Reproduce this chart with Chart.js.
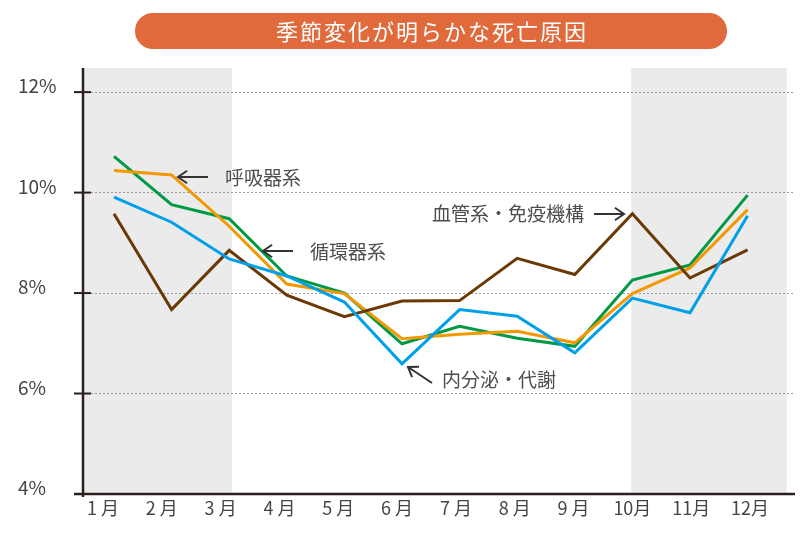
<!DOCTYPE html>
<html>
<head>
<meta charset="utf-8">
<script src="https://cdn.jsdelivr.net/npm/chart.js@4/dist/chart.umd.min.js"></script>
<style>
  html, body { margin: 0; padding: 0; background: #fff; }
  canvas { display: block; }
</style>
</head>
<body>
<canvas id="myChart" width="800" height="533"></canvas>
<script>
// chart data
const titleText = '季節変化が明らかな死亡原因'
const months = [1, 2, 3, 4, 5, 6, 7, 8, 9, 10, 11, 12]
const monthLabels = ['1 月', '2 月', '3 月', '4 月', '5 月', '6 月', '7 月', '8 月', '9 月', '10月', '11月', '12月']
const yTicks = [4, 6, 8, 10, 12]

const respiratory = [10.44, 10.35, 9.33, 8.18, 7.99, 7.09, 7.18, 7.24, 7.01, 7.99, 8.5, 9.66]
const circulatory = [10.72, 9.76, 9.48, 8.34, 8.0, 6.99, 7.34, 7.1, 6.94, 8.26, 8.56, 9.95]
const vascularImmune = [9.58, 7.67, 8.85, 7.96, 7.53, 7.84, 7.85, 8.69, 8.37, 9.58, 8.3, 8.86]
const endocrine = [9.91, 9.41, 8.68, 8.34, 7.82, 6.59, 7.67, 7.54, 6.81, 7.9, 7.61, 9.54]

const seriesNames = ['呼吸器系', '循環器系', '血管系・免疫機構', '内分泌・代謝']

const FONT = '"Noto Sans CJK JP", "Noto Sans", sans-serif'
const AXIS_COLOR = '#2a1f1c'

const toPoints = (values) => months.map((m, i) => ({ x: m, y: values[i] }))

// grey bands behind the winter months, title pill
const backdrop = {
    id: 'backdrop',
    beforeDraw(chart) {
        const { ctx, chartArea, scales } = chart
        ctx.save()
        ctx.fillStyle = '#fff'
        ctx.fillRect(0, 0, chart.width, chart.height)

        ctx.fillStyle = '#ebebeb'
        const bands = [[scales.x.min, 3.05], [9.98, 12.68]]
        bands.forEach(([a, b]) => {
            const x1 = Math.max(chartArea.left, scales.x.getPixelForValue(a))
            const x2 = scales.x.getPixelForValue(b)
            ctx.fillRect(x1, chartArea.top, x2 - x1, chartArea.bottom - chartArea.top)
        })

        // title pill
        ctx.fillStyle = '#e06a3b'
        ctx.beginPath()
        ctx.roundRect(135, 13, 592, 36, 18)
        ctx.fill()
        ctx.fillStyle = '#fff'
        ctx.font = '22px ' + FONT
        ctx.letterSpacing = '2px'
        ctx.textAlign = 'center'
        ctx.textBaseline = 'middle'
        ctx.fillText(titleText, 432, 32)
        ctx.restore()
    },
}

function arrow(ctx, tx, ty, fx, fy) {
    const ang = Math.atan2(ty - fy, tx - fx)
    const len = 11
    ctx.beginPath()
    ctx.moveTo(fx, fy)
    ctx.lineTo(tx, ty)
    ctx.moveTo(tx - len * Math.cos(ang - 0.6), ty - len * Math.sin(ang - 0.6))
    ctx.lineTo(tx, ty)
    ctx.lineTo(tx - len * Math.cos(ang + 0.6), ty - len * Math.sin(ang + 0.6))
    ctx.stroke()
}

// axis lines, tick marks and the labels with arrows
const overlay = {
    id: 'overlay',
    afterDraw(chart) {
        const { ctx, chartArea, scales } = chart
        const y = scales.y
        ctx.save()
        ctx.strokeStyle = AXIS_COLOR
        ctx.lineWidth = 2.5
        ctx.beginPath()
        ctx.moveTo(chartArea.left, chartArea.top)
        ctx.lineTo(chartArea.left, chartArea.bottom + 3)
        ctx.moveTo(chartArea.left - 9, chartArea.bottom)
        ctx.lineTo(chartArea.right, chartArea.bottom)
        ctx.stroke()
        ctx.lineWidth = 2
        yTicks.slice(1).forEach((v) => {
            const py = y.getPixelForValue(v)
            ctx.beginPath()
            ctx.moveTo(chartArea.left - 9, py)
            ctx.lineTo(chartArea.left + 8, py)
            ctx.stroke()
        })

        ctx.strokeStyle = '#333'
        ctx.lineWidth = 2
        arrow(ctx, 178, 177, 208, 177)
        arrow(ctx, 263, 251, 293, 251)
        arrow(ctx, 624, 214, 594, 214)
        arrow(ctx, 408, 367, 432, 383)

        ctx.fillStyle = '#4d4d4d'
        ctx.font = '19px ' + FONT
        ctx.textBaseline = 'middle'
        ctx.textAlign = 'left'
        ctx.fillText(seriesNames[0], 225, 178)
        ctx.fillText(seriesNames[1], 310, 252)
        ctx.fillText(seriesNames[2], 432, 214)
        ctx.fillText(seriesNames[3], 442, 380)
        ctx.restore()
    },
}

const line = (label, values, color) => ({
    label,
    data: toPoints(values),
    borderColor: color,
    backgroundColor: color,
    borderWidth: 3,
    pointRadius: 0,
    tension: 0,
    xAxisID: 'x',
})

const ctx = document.getElementById('myChart')
new Chart(ctx, {
    type: 'line',
    data: {
        datasets: [
            line(seriesNames[3], endocrine, '#00a0e9'),
            line(seriesNames[2], vascularImmune, '#6a3906'),
            line(seriesNames[0], respiratory, '#f39800'),
            line(seriesNames[1], circulatory, '#009944'),
        ],
    },
    options: {
        responsive: false,
        animation: false,
        devicePixelRatio: 1,
        layout: { padding: { top: 68, left: 18, right: 5, bottom: 0 } },
        plugins: {
            legend: { display: false },
            title: { display: false },
            tooltip: { enabled: false },
        },
        scales: {
            x: {
                type: 'linear',
                display: false,
                min: 0.462,
                max: 12.823,
            },
            x2: {
                type: 'linear',
                position: 'bottom',
                min: 0.66,
                max: 12.765,
                grid: { display: false, drawTicks: false },
                border: { display: false },
                afterBuildTicks: (scale) => {
                    scale.ticks = months.map((m) => ({ value: m }))
                },
                afterFit: (scale) => {
                    scale.height = 39
                },
                ticks: {
                    padding: 3,
                    maxRotation: 0,
                    autoSkip: false,
                    color: '#444',
                    font: { family: FONT, size: 18 },
                    callback: (v) => monthLabels[v - 1],
                },
            },
            y: {
                type: 'linear',
                min: 4,
                max: 12.48,
                afterBuildTicks: (scale) => {
                    scale.ticks = yTicks.map((v) => ({ value: v }))
                },
                afterFit: (scale) => {
                    scale.width = 65
                },
                grid: { color: '#9a9a9a', lineWidth: 1, drawTicks: false },
                border: { display: false, dash: [2, 2] },
                ticks: {
                    crossAlign: 'far',
                    labelOffset: -6,
                    color: '#444',
                    font: { family: FONT, size: 19 },
                    callback: (v) => v + '%',
                },
            },
        },
    },
    plugins: [backdrop, overlay],
})
</script>
</body>
</html>
